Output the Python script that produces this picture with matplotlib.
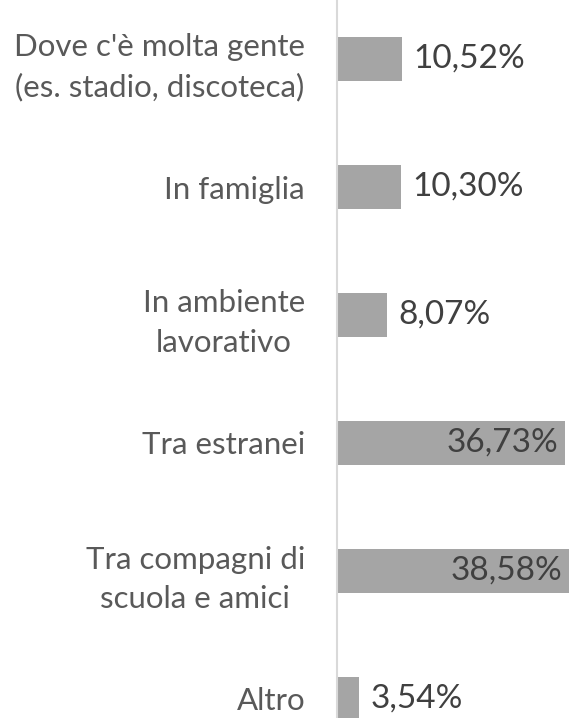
import matplotlib.pyplot as plt

categories = ["Dove c'è molta gente\n(es. stadio, discoteca)", "In famiglia",
              "In ambiente\nlavorativo", "Tra estranei",
              "Tra compagni di\nscuola e amici", "Altro"]
values = [10.52, 10.30, 8.07, 36.73, 38.58, 3.54]
labels = ["10,52%", "10,30%", "8,07%", "36,73%", "38,58%", "3,54%"]

plt.rcParams['font.family'] = ['Lato', 'DejaVu Sans']

W, H = 569, 718
fig = plt.figure(figsize=(W / 100, H / 100), dpi=100)
ax = fig.add_axes([337 / W, 0, 232 / W, 1])

pos = list(range(len(values)))
ax.barh(pos, values, height=0.35, color='#a5a5a5')

xmax = 232 / 6.2
ax.set_xlim(0, xmax)
ax.set_ylim(5 + (H - 699) / 128, -59 / 128)

for p, v, t in zip(pos, values, labels):
    if v > 30:
        ax.text(min(v, xmax) - 1.1, p, t, ha='right', va='center', fontsize=24, color='#404040')
    else:
        ax.text(v + 1.8, p, t, ha='left', va='center', fontsize=24, color='#404040')

ax.set_yticks(pos)
ax.set_yticklabels(categories, fontsize=22.5, color='#595959', multialignment='center',
                   linespacing=1.5)
ax.tick_params(axis='y', length=0, pad=23)
ax.set_xticks([])
for s in ['top', 'right', 'bottom']:
    ax.spines[s].set_visible(False)
ax.spines['left'].set_color('#d9d9d9')
ax.spines['left'].set_linewidth(1.5)

fig.savefig('out.png', dpi=100)
